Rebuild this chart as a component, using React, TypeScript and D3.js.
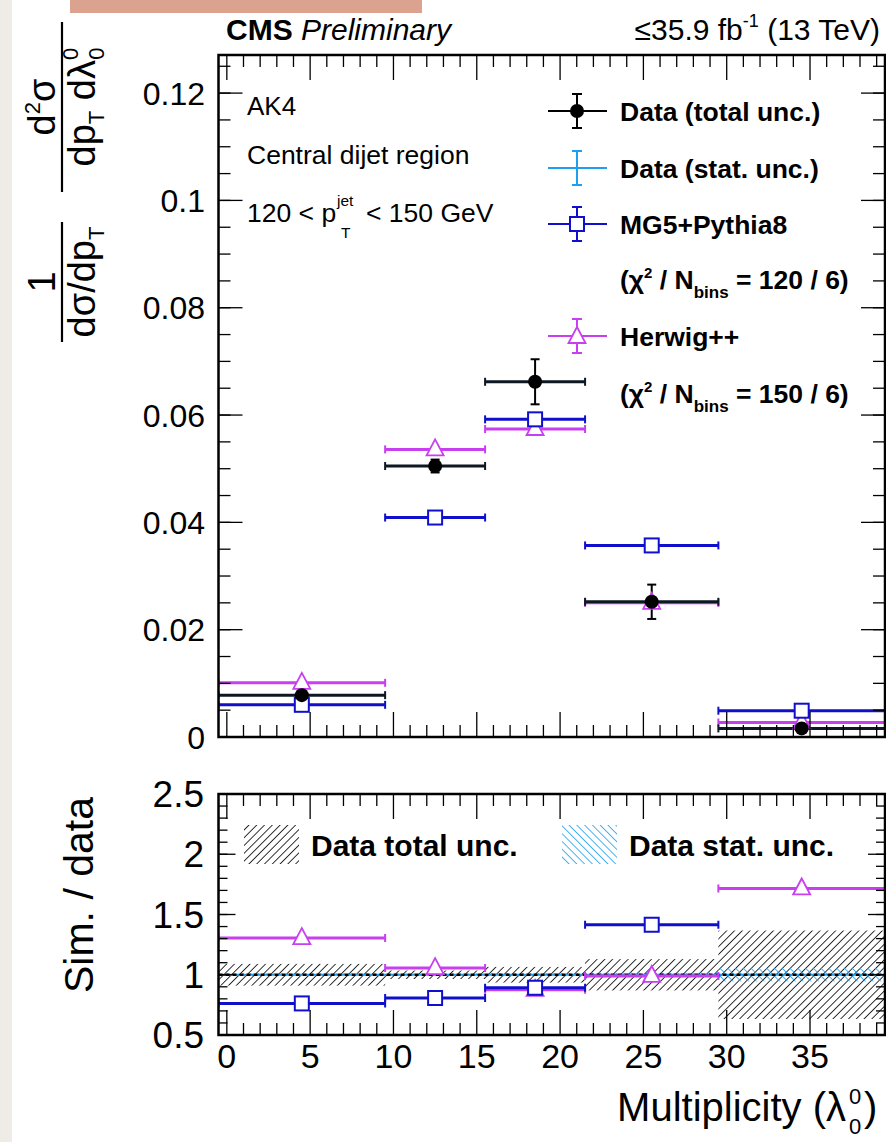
import React from 'react';
import * as d3 from 'd3';

// ---------------- data ----------------
const binEdges = [-0.5, 9.5, 15.5, 21.5, 29.5, 39.5];
const dataValues = [0.0078, 0.0505, 0.0662, 0.0252, 0.0016];
const dataTotalUnc = [0.0007, 0.0012, 0.0042, 0.0032, 0.0006];
const dataStatUnc = [0.0001, 0.0004, 0.0007, 0.0005, 0.0001];
const mgValues = [0.006, 0.0409, 0.0592, 0.0357, 0.0049];
const hwValues = [0.0101, 0.0536, 0.0574, 0.025, 0.0027];
const mgRatio = [0.762, 0.807, 0.892, 1.415, 3.1];
const hwRatio = [1.304, 1.055, 0.875, 0.99, 1.716];
const ratioTotalUnc = [0.09, 0.035, 0.065, 0.13, 0.367];
const ratioStatUnc = [0.012, 0.01, 0.015, 0.02, 0.055];

const topYTicks = [0, 0.02, 0.04, 0.06, 0.08, 0.1, 0.12];
const topYTickLabels = ['0', '0.02', '0.04', '0.06', '0.08', '0.1', '0.12'];
const ratioYTicks = [0.5, 1, 1.5, 2, 2.5];
const ratioYTickLabels = ['0.5', '1', '1.5', '2', '2.5'];
const xTicks = [0, 5, 10, 15, 20, 25, 30, 35];
const xTickLabels = ['0', '5', '10', '15', '20', '25', '30', '35'];

// ---------------- layout ----------------
const W = 886;
const H = 1142;
const L = 218.5;
const R = 885;
const TOP_T = 55;
const TOP_B = 737;
const BOT_T = 794;
const BOT_B = 1035;
const FONT = '"Liberation Sans", Arial, Helvetica, sans-serif';

const BLACK = '#000';
const DATA_BAR = '#0c1822';
const MG = '#1010cc';
const HW = '#c83ff0';
const STAT = '#1ea0f0';

const x = d3.scaleLinear().domain([-0.5, 39.5]).range([L, R]);
const yTop = d3.scaleLinear().domain([0, 0.1271]).range([TOP_B, TOP_T]);
const yRat = d3.scaleLinear().domain([0.5, 2.5]).range([BOT_B, BOT_T]);

const bins = dataValues.map((v, i) => ({
  lo: binEdges[i],
  hi: binEdges[i + 1],
  c: (binEdges[i] + binEdges[i + 1]) / 2,
  data: v,
  tot: dataTotalUnc[i],
  stat: dataStatUnc[i],
  mg: mgValues[i],
  hw: hwValues[i],
  mgR: mgRatio[i],
  hwR: hwRatio[i],
  rTot: ratioTotalUnc[i],
  rStat: ratioStatUnc[i],
}));

function minorRange(a: number, b: number, step: number) {
  const n = Math.floor((b - a) / step + 1e-6);
  return d3.range(0, n + 1).map((k) => +(a + k * step).toFixed(6));
}

const Circle = ({ cx, cy, r = 7 }: any) => <circle cx={cx} cy={cy} r={r} fill={BLACK} />;
const Square = ({ cx, cy, s = 14, color = MG }: any) => (
  <rect x={cx - s / 2} y={cy - s / 2} width={s} height={s} fill="#fff" stroke={color} strokeWidth={2} />
);
const Tri = ({ cx, cy, color = HW }: any) => (
  <path d={`M${cx},${cy - 10} L${cx + 8.5},${cy + 6} L${cx - 8.5},${cy + 6} Z`} fill="#fff" stroke={color} strokeWidth={1.8} />
);

function HBar({ x1, x2, y, color, w = 3, cap = 8 }: any) {
  return (
    <g>
      <line x1={x1} x2={x2} y1={y} y2={y} stroke={color} strokeWidth={w} />
      <line x1={x1} x2={x1} y1={y - cap / 2} y2={y + cap / 2} stroke={color} strokeWidth={2} />
      <line x1={x2} x2={x2} y1={y - cap / 2} y2={y + cap / 2} stroke={color} strokeWidth={2} />
    </g>
  );
}
function VBar({ x0, y1, y2, color, cap = 10 }: any) {
  return (
    <g>
      <line x1={x0} x2={x0} y1={y1} y2={y2} stroke={color} strokeWidth={2} />
      <line x1={x0 - cap / 2} x2={x0 + cap / 2} y1={y1} y2={y1} stroke={color} strokeWidth={2} />
      <line x1={x0 - cap / 2} x2={x0 + cap / 2} y1={y2} y2={y2} stroke={color} strokeWidth={2} />
    </g>
  );
}

function Frame({ t, b, yMajor, yMinor, yMajLen, yMinLen }: any) {
  const xMinor = minorRange(0, 39, 1);
  return (
    <g>
      {xMinor.map((v) => {
        const maj = v % 5 === 0;
        const len = maj ? 25 : 12;
        return (
          <g key={'x' + v}>
            <line x1={x(v)} x2={x(v)} y1={b} y2={b - len} stroke={BLACK} strokeWidth={1.3} />
            <line x1={x(v)} x2={x(v)} y1={t} y2={t + len} stroke={BLACK} strokeWidth={1.3} />
          </g>
        );
      })}
      {yMinor.map((py: number, i: number) => (
        <g key={'ym' + i}>
          <line x1={L} x2={L + yMinLen} y1={py} y2={py} stroke={BLACK} strokeWidth={1.3} />
          <line x1={R} x2={R - yMinLen} y1={py} y2={py} stroke={BLACK} strokeWidth={1.3} />
        </g>
      ))}
      {yMajor.map((py: number, i: number) => (
        <g key={'yM' + i}>
          <line x1={L} x2={L + yMajLen} y1={py} y2={py} stroke={BLACK} strokeWidth={1.3} />
          <line x1={R} x2={R - yMajLen} y1={py} y2={py} stroke={BLACK} strokeWidth={1.3} />
        </g>
      ))}
      <rect x={L} y={t} width={R - L} height={b - t} fill="none" stroke={BLACK} strokeWidth={2.5} />
    </g>
  );
}

export default function App() {
  const topMinor = minorRange(0, 0.125, 0.005).map((v) => yTop(v));
  const topMajor = topYTicks.map((v) => yTop(v));
  const ratMinor = minorRange(0.5, 2.5, 0.1).map((v) => yRat(v));
  const ratMajor = ratioYTicks.map((v) => yRat(v));

  const legendRows = [121, 178, 234, 346];
  const lx = 577;

  return (
    <svg width={W} height={H} style={{ position: 'absolute', left: 0, top: 0, background: '#fff' }} fontFamily={FONT}>
      <defs>
        <clipPath id="clipTop">
          <rect x={L} y={TOP_T} width={R - L} height={TOP_B - TOP_T} />
        </clipPath>
        <clipPath id="clipBot">
          <rect x={L} y={BOT_T} width={R - L} height={BOT_B - BOT_T} />
        </clipPath>
        <pattern id="hatchBlack" width="5.5" height="5.5" patternUnits="userSpaceOnUse" patternTransform="rotate(45)">
          <line x1="0" y1="0" x2="0" y2="5.5" stroke="#000" strokeWidth="1.6" />
        </pattern>
        <pattern id="hatchBlue" width="5.5" height="5.5" patternUnits="userSpaceOnUse" patternTransform="rotate(-45)">
          <line x1="0" y1="0" x2="0" y2="5.5" stroke={STAT} strokeWidth="1.6" />
        </pattern>
      </defs>
      <rect x={0} y={0} width={W} height={H} fill="#fff" />
      <rect x={0} y={0} width={12} height={H} fill="#efebe7" />
      <rect x={70} y={0} width={352} height={13} fill="#dca290" />

      {/* header */}
      <text x={226} y={40} fontSize={30}>
        <tspan fontWeight="bold">CMS</tspan>
        <tspan fontStyle="italic"> Preliminary</tspan>
      </text>
      <text x={880} y={40} fontSize={30} textAnchor="end">
        ≤35.9 fb<tspan fontSize={18} dy={-13}>-1</tspan>
        <tspan dy={13}> (13 TeV)</tspan>
      </text>

      {/* ---------- top panel ---------- */}
      <g clipPath="url(#clipTop)">
        {bins.map((b, i) => (
          <g key={'hw' + i}>
            <HBar x1={x(b.lo)} x2={x(b.hi)} y={yTop(b.hw)} color={HW} />
          </g>
        ))}
        {bins.map((b, i) => (
          <g key={'mg' + i}>
            <HBar x1={x(b.lo)} x2={x(b.hi)} y={yTop(b.mg)} color={MG} />
          </g>
        ))}
        {bins.map((b, i) => (
          <g key={'dt' + i}>
            <HBar x1={x(b.lo)} x2={x(b.hi)} y={yTop(b.data)} color={DATA_BAR} />
            <VBar x0={x(b.c)} y1={yTop(b.data + b.tot)} y2={yTop(b.data - b.tot)} color={BLACK} cap={9} />
          </g>
        ))}
        {bins.map((b, i) => (
          <g key={'mk' + i}>
            <Tri cx={x(b.c)} cy={yTop(b.hw)} />
            <Square cx={x(b.c)} cy={yTop(b.mg)} />
            <Circle cx={x(b.c)} cy={yTop(b.data)} />
          </g>
        ))}
      </g>
      <Frame t={TOP_T} b={TOP_B} yMajor={topMajor} yMinor={topMinor} yMajLen={24} yMinLen={12} />
      {topYTicks.map((v, i) => (
        <text key={'tl' + i} x={205} y={yTop(v) + 11.5} fontSize={32} textAnchor="end">
          {topYTickLabels[i]}
        </text>
      ))}

      {/* annotations */}
      <text x={247} y={115} fontSize={26}>AK4</text>
      <text x={247} y={164} fontSize={26.5}>Central dijet region</text>
      <text x={247} y={222} fontSize={26.5}>120 &lt; p</text>
      <text x={337} y={206} fontSize={15.5}>jet</text>
      <text x={341} y={238} fontSize={15.5}>T</text>
      <text x={366} y={222} fontSize={26.5}>&lt; 150 GeV</text>

      {/* legend */}
      <g fontWeight="bold" fontSize={26.5}>
        <line x1={548} x2={607} y1={legendRows[0] - 10} y2={legendRows[0] - 10} stroke={BLACK} strokeWidth={2} />
        <VBar x0={lx} y1={legendRows[0] - 27} y2={legendRows[0] + 7} color={BLACK} />
        <Circle cx={lx} cy={legendRows[0] - 10} />
        <text x={620} y={legendRows[0]}>Data (total unc.)</text>

        <line x1={548} x2={607} y1={legendRows[1] - 10} y2={legendRows[1] - 10} stroke={STAT} strokeWidth={2} />
        <VBar x0={lx} y1={legendRows[1] - 27} y2={legendRows[1] + 7} color={STAT} />
        <text x={620} y={legendRows[1]}>Data (stat. unc.)</text>

        <line x1={548} x2={607} y1={legendRows[2] - 10} y2={legendRows[2] - 10} stroke={MG} strokeWidth={2} />
        <VBar x0={lx} y1={legendRows[2] - 27} y2={legendRows[2] + 7} color={MG} />
        <Square cx={lx} cy={legendRows[2] - 10} />
        <text x={620} y={legendRows[2]}>MG5+Pythia8</text>

        <text x={620} y={289}>
          (χ<tspan fontSize={15} dy={-11}>2</tspan>
          <tspan dy={11}> / N</tspan>
          <tspan fontSize={17} dy={9}>bins</tspan>
          <tspan dy={-9}> = 120 / 6)</tspan>
        </text>

        <line x1={548} x2={607} y1={legendRows[3] - 10} y2={legendRows[3] - 10} stroke={HW} strokeWidth={2} />
        <VBar x0={lx} y1={legendRows[3] - 27} y2={legendRows[3] + 7} color={HW} />
        <Tri cx={lx} cy={legendRows[3] - 9} />
        <text x={620} y={legendRows[3]}>Herwig++</text>

        <text x={620} y={403}>
          (χ<tspan fontSize={15} dy={-11}>2</tspan>
          <tspan dy={11}> / N</tspan>
          <tspan fontSize={17} dy={9}>bins</tspan>
          <tspan dy={-9}> = 150 / 6)</tspan>
        </text>
      </g>

      {/* y title top */}
      <g transform="translate(62,342) rotate(-90)" fontSize={38}>
        <line x1={0} x2={120} y1={0} y2={0} stroke={BLACK} strokeWidth={2.2} />
        <text x={60} y={-7} textAnchor="middle">1</text>
        <text x={60} y={33} textAnchor="middle">
          dσ/dp<tspan fontSize={22} dy={9}>T</tspan>
        </text>
        <line x1={150} x2={320} y1={0} y2={0} stroke={BLACK} strokeWidth={2.2} />
        <text x={235} y={-7} textAnchor="middle">
          d<tspan fontSize={22} dy={-15}>2</tspan>
          <tspan dy={15}>σ</tspan>
        </text>
        <text x={235} y={33} textAnchor="middle">
          dp<tspan fontSize={22} dy={9}>T</tspan>
          <tspan dy={-9}> dλ</tspan>
          <tspan fontSize={22} dy={-17}>0</tspan>
          <tspan fontSize={22} dx={-12} dy={26}>0</tspan>
        </text>
      </g>

      {/* ---------- ratio panel ---------- */}
      <g clipPath="url(#clipBot)">
        {bins.map((b, i) => (
          <g key={'band' + i}>
            <rect x={x(b.lo)} width={x(b.hi) - x(b.lo)} y={yRat(1 + b.rTot)} height={yRat(1 - b.rTot) - yRat(1 + b.rTot)} fill="url(#hatchBlack)" />
            <rect x={x(b.lo)} width={x(b.hi) - x(b.lo)} y={yRat(1 + b.rStat)} height={yRat(1 - b.rStat) - yRat(1 + b.rStat)} fill="url(#hatchBlue)" />
          </g>
        ))}
        <line x1={L} x2={R} y1={yRat(1)} y2={yRat(1)} stroke={STAT} strokeWidth={2} strokeDasharray="3,4" strokeDashoffset={3.5} />
        <line x1={L} x2={R} y1={yRat(1)} y2={yRat(1)} stroke={BLACK} strokeWidth={2.5} strokeDasharray="4,3" />
        {bins.map((b, i) => (
          <g key={'rh' + i}>
            <HBar x1={x(b.lo)} x2={x(b.hi)} y={yRat(b.hwR)} color={HW} />
          </g>
        ))}
        {bins.map((b, i) => (
          <g key={'rm' + i}>
            <HBar x1={x(b.lo)} x2={x(b.hi)} y={yRat(b.mgR)} color={MG} />
          </g>
        ))}
        {bins.map((b, i) => (
          <g key={'rk' + i}>
            <Tri cx={x(b.c)} cy={yRat(b.hwR)} />
            <Square cx={x(b.c)} cy={yRat(b.mgR)} />
          </g>
        ))}
      </g>
      <Frame t={BOT_T} b={BOT_B} yMajor={ratMajor} yMinor={ratMinor} yMajLen={17} yMinLen={9} />
      {ratioYTicks.map((v, i) => (
        <text key={'rl' + i} x={204} y={yRat(v) + 13} fontSize={37} textAnchor="end">
          {ratioYTickLabels[i]}
        </text>
      ))}
      {xTicks.map((v, i) => (
        <text key={'xl' + i} x={x(v)} y={1068} fontSize={34} textAnchor="middle">
          {xTickLabels[i]}
        </text>
      ))}

      {/* ratio legend */}
      <rect x={244} y={825} width={55} height={39} fill="url(#hatchBlack)" />
      <text x={311} y={856} fontSize={30} fontWeight="bold">Data total unc.</text>
      <rect x={562} y={825} width={55} height={39} fill="url(#hatchBlue)" />
      <text x={629} y={856} fontSize={30} fontWeight="bold">Data stat. unc.</text>

      {/* ratio y title */}
      <text transform="translate(93,895) rotate(-90)" fontSize={41} textAnchor="middle">
        Sim. / data
      </text>

      {/* x title */}
      <text x={846} y={1121} fontSize={40} textAnchor="end">Multiplicity (λ</text>
      <text x={849} y={1104} fontSize={22}>0</text>
      <text x={849} y={1134} fontSize={22}>0</text>
      <text x={864} y={1121} fontSize={40}>)</text>
    </svg>
  );
}
